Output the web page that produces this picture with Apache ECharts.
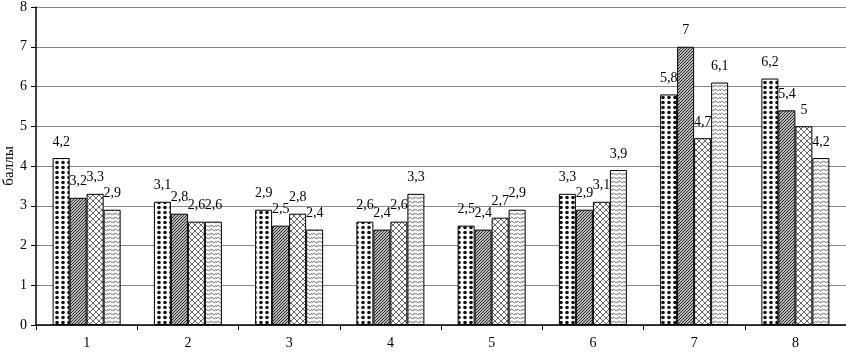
<!DOCTYPE html>
<html>
<head>
<meta charset="utf-8">
<script src="https://cdn.jsdelivr.net/npm/echarts@6/dist/echarts.min.js"></script>
<style>
  html, body { margin: 0; padding: 0; background: #fff; }
  #chart { width: 846px; height: 357px; }
</style>
</head>
<body>
<div id="chart"></div>
<script>
const categories = ['1', '2', '3', '4', '5', '6', '7', '8']
const seriesA = [4.2, 3.1, 2.9, 2.6, 2.5, 3.3, 5.8, 6.2]
const seriesB = [3.2, 2.8, 2.5, 2.4, 2.4, 2.9, 7, 5.4]
const seriesC = [3.3, 2.6, 2.8, 2.6, 2.7, 3.1, 4.7, 5]
const seriesD = [2.9, 2.6, 2.4, 3.3, 2.9, 3.9, 6.1, 4.2]

// canvas tiles for the black & white fills
function tile(w, h, draw) {
  const c = document.createElement('canvas')
  c.width = w
  c.height = h
  const ctx = c.getContext('2d')
  ctx.fillStyle = '#fff'
  ctx.fillRect(0, 0, w, h)
  draw(ctx)
  return { image: c, repeat: 'repeat' }
}

const dots = tile(6, 5, (ctx) => {
  ctx.fillStyle = '#111'
  ctx.beginPath()
  ctx.arc(3, 2.5, 1.8, 0, Math.PI * 2)
  ctx.fill()
})

const hatch = tile(3, 3, (ctx) => {
  ctx.strokeStyle = '#222'
  ctx.lineWidth = 1.2
  ctx.beginPath()
  ctx.moveTo(0, 3); ctx.lineTo(3, 0)
  ctx.moveTo(-1, 1); ctx.lineTo(1, -1)
  ctx.moveTo(2, 4); ctx.lineTo(4, 2)
  ctx.stroke()
})

const cross = tile(6, 6, (ctx) => {
  ctx.strokeStyle = '#666'
  ctx.lineWidth = 1
  ctx.beginPath()
  ctx.moveTo(0, 0); ctx.lineTo(6, 6)
  ctx.moveTo(0, 6); ctx.lineTo(6, 0)
  ctx.stroke()
})

const wave = tile(6, 4, (ctx) => {
  ctx.strokeStyle = '#777'
  ctx.lineWidth = 1
  ctx.beginPath()
  ctx.moveTo(0, 3); ctx.lineTo(1.5, 1); ctx.lineTo(4.5, 3); ctx.lineTo(6, 1)
  ctx.stroke()
})

const chart = echarts.init(document.getElementById('chart'))

const font = '"Liberation Serif", "Times New Roman", serif'

function bar(name, data, fill) {
  return {
    name: name,
    type: 'bar',
    data: data,
    barWidth: 17,
    barGap: '0%',
    itemStyle: { color: fill, borderColor: '#000', borderWidth: 1 },
    label: {
      show: true,
      position: 'top',
      distance: 9,
      fontFamily: font,
      fontSize: 14,
      color: '#000',
      formatter: (p) => String(p.value).replace('.', ','),
    },
  }
}

const option = {
  animation: false,
  grid: { left: 36, right: 0, top: 7, bottom: 32, outerBoundsMode: 'none', containLabel: false },
  xAxis: {
    type: 'category',
    data: categories,
    axisLine: { lineStyle: { color: '#000', width: 1.5 } },
    axisTick: { show: true, length: 5, lineStyle: { color: '#000' } },
    axisLabel: { fontFamily: font, fontSize: 14, color: '#000', margin: 11 },
  },
  yAxis: {
    type: 'value',
    min: 0,
    max: 8,
    interval: 1,
    name: 'баллы',
    nameLocation: 'middle',
    nameGap: 19,
    nameMoveOverlap: false,
    nameTextStyle: { fontFamily: font, fontSize: 15, color: '#000' },
    axisLine: { show: true, lineStyle: { color: '#000', width: 1.5 } },
    axisTick: { show: true, length: 5, lineStyle: { color: '#000' } },
    axisLabel: { fontFamily: font, fontSize: 14, color: '#000', margin: 9 },
    splitLine: { lineStyle: { color: '#888', width: 1 } },
  },
  series: [
    bar('A', seriesA, dots),
    bar('B', seriesB, hatch),
    bar('C', seriesC, cross),
    bar('D', seriesD, wave),
  ],
}

chart.setOption(option)
</script>
</body>
</html>
